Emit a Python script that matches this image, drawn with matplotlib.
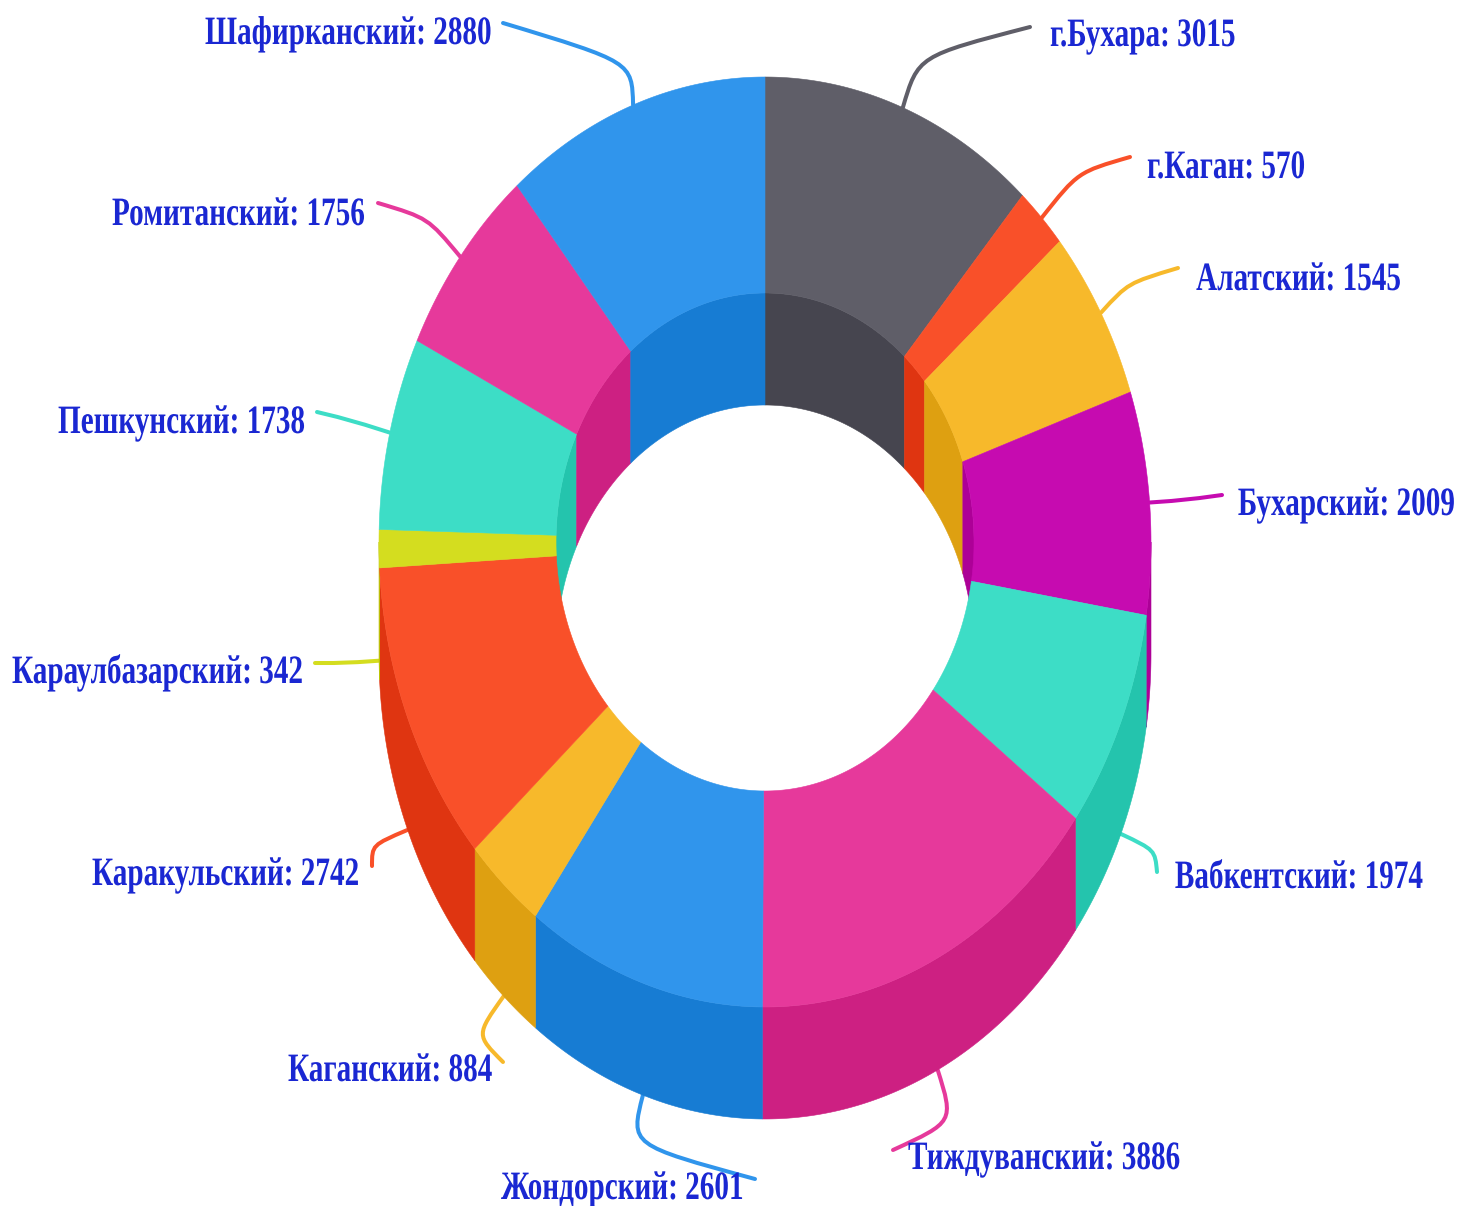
import numpy as np
import matplotlib
matplotlib.use("Agg")
import matplotlib.pyplot as plt
from matplotlib.patches import Polygon, PathPatch
from matplotlib.path import Path
from matplotlib.patheffects import AbstractPathEffect

# ---- data ----
districts = ["г.Бухара", "г.Каган", "Алатский", "Бухарский", "Вабкентский",
             "Тиждуванский", "Жондорский", "Каганский", "Каракульский",
             "Караулбазарский", "Пешкунский", "Ромитанский", "Шафирканский"]
values = [3015, 570, 1545, 2009, 1974, 3886, 2601, 884, 2742, 342, 1738, 1756, 2880]

# ---- styles ----
top_colors = ["#5F5E68", "#F95029", "#F7B92B", "#C60BB0", "#3DDDC6", "#E6399B", "#3095EC",
              "#F7B92B", "#F95029", "#D4DD1F", "#3DDDC6", "#E6399B", "#3095EC"]
side_colors = ["#46454F", "#DF3511", "#DEA011", "#AD0097", "#24C4AD", "#CD2082", "#177CD3",
               "#DEA011", "#DF3511", "#BBC406", "#24C4AD", "#CD2082", "#177CD3"]
label_color = "#1A27D2"
CX, CY, RX, RY = 765, 542, 386, 465
IRX, IRY = 209, 249
DEPTH = 112
# label anchor x / baseline y and the side the anchor is on, leader end, leader elbow
label_xy = [(1050, 46), (1147, 178), (1401, 290), (1455, 515), (1423, 888), (908, 1169), (501, 1199),
            (288, 1081), (92, 885), (12, 683), (58, 433), (112, 225), (205, 44)]
label_ha = ["left", "left", "right", "right", "right", "left", "left",
            "left", "left", "left", "left", "left", "left"]
leader_end = [(1030, 27), (1130, 157), (1178, 268), (1222, 495), (1157, 872), (893, 1150), (755, 1179),
              (503, 1062), (372, 866), (315, 663), (317, 412), (378, 203), (503, 23)]
leader_elbow = [(918, 56), (1078, 172), (1128, 283), (1185, 500), (1155, 850), (954, 1122), (630, 1145),
                (476, 1035), (372, 845), (345, 663), (350, 420), (428, 218), (632, 62)]


class Condense(AbstractPathEffect):
    """Narrow the glyphs horizontally about a fixed x position in pixels."""
    def __init__(self, sx, anchor_x):
        super().__init__()
        self.sx = sx
        self.anchor_x = anchor_x

    def draw_path(self, renderer, gc, tpath, affine, rgbFace=None):
        aff = affine.frozen()
        m = aff.get_matrix().copy()
        m[0, 0] *= self.sx
        m[0, 1] *= self.sx
        m[0, 2] = self.anchor_x + self.sx * (m[0, 2] - self.anchor_x)
        aff.set_matrix(m)
        renderer.draw_path(gc, tpath, aff, rgbFace)


def arc(a0, a1, rx, ry, dy=0.0):
    t = np.linspace(a0, a1, max(int(abs(a1 - a0) * 120), 2))
    return np.column_stack([CX + rx * np.sin(t), CY - ry * np.cos(t) + dy])


fig = plt.figure(figsize=(14.59, 12.06), dpi=100, facecolor="white")
ax = fig.add_axes([0, 0, 1, 1])
ax.set_xlim(0, 1459)
ax.set_ylim(1206, 0)
ax.axis("off")

fractions = np.array(values, dtype=float) / np.sum(values)
edges = np.concatenate([[0], np.cumsum(fractions)]) * 2 * np.pi
H = np.pi / 2

# leaders, under the ring
for i, (a0, a1) in enumerate(zip(edges[:-1], edges[1:])):
    mid = (a0 + a1) / 2
    dy = DEPTH if H < mid < 3 * H else 0
    start = (CX + RX * np.sin(mid), CY - RY * np.cos(mid) + dy)
    path = Path([start, leader_elbow[i], leader_elbow[i], leader_end[i]],
                [Path.MOVETO, Path.CURVE4, Path.CURVE4, Path.CURVE4])
    ax.add_patch(PathPatch(path, fill=False, edgecolor=top_colors[i], lw=2.9,
                           capstyle="round", zorder=1))

# far inner wall: the part of the hole's rim on the upper half
for i, (a0, a1) in enumerate(zip(edges[:-1], edges[1:])):
    for lo, hi in ((0, H), (3 * H, 4 * H)):
        s, e = max(a0, lo), min(a1, hi)
        if e > s:
            pts = np.vstack([arc(s, e, IRX, IRY), arc(s, e, IRX, IRY, DEPTH)[::-1]])
            ax.add_patch(Polygon(pts, closed=True, fc=side_colors[i], ec=side_colors[i], lw=0.4, zorder=2))

# near outer wall: the lower half of the outer rim
for i, (a0, a1) in enumerate(zip(edges[:-1], edges[1:])):
    s, e = max(a0, H), min(a1, 3 * H)
    if e > s:
        pts = np.vstack([arc(s, e, RX, RY), arc(s, e, RX, RY, DEPTH)[::-1]])
        ax.add_patch(Polygon(pts, closed=True, fc=side_colors[i], ec=side_colors[i], lw=0.4, zorder=3))

# top faces
for i, (a0, a1) in enumerate(zip(edges[:-1], edges[1:])):
    pts = np.vstack([arc(a0, a1, RX, RY), arc(a0, a1, IRX, IRY)[::-1]])
    ax.add_patch(Polygon(pts, closed=True, fc=top_colors[i], ec=top_colors[i], lw=0.4, zorder=4))

# labels
for name, val, (x, y), ha in zip(districts, values, label_xy, label_ha):
    t = ax.text(x, y, f"{name}: {val}", family="Liberation Serif", weight="bold",
                fontsize=29, color=label_color, ha=ha, va="baseline", zorder=6)
    t.set_path_effects([Condense(0.725, x)])

fig.savefig("out.png", dpi=100)
